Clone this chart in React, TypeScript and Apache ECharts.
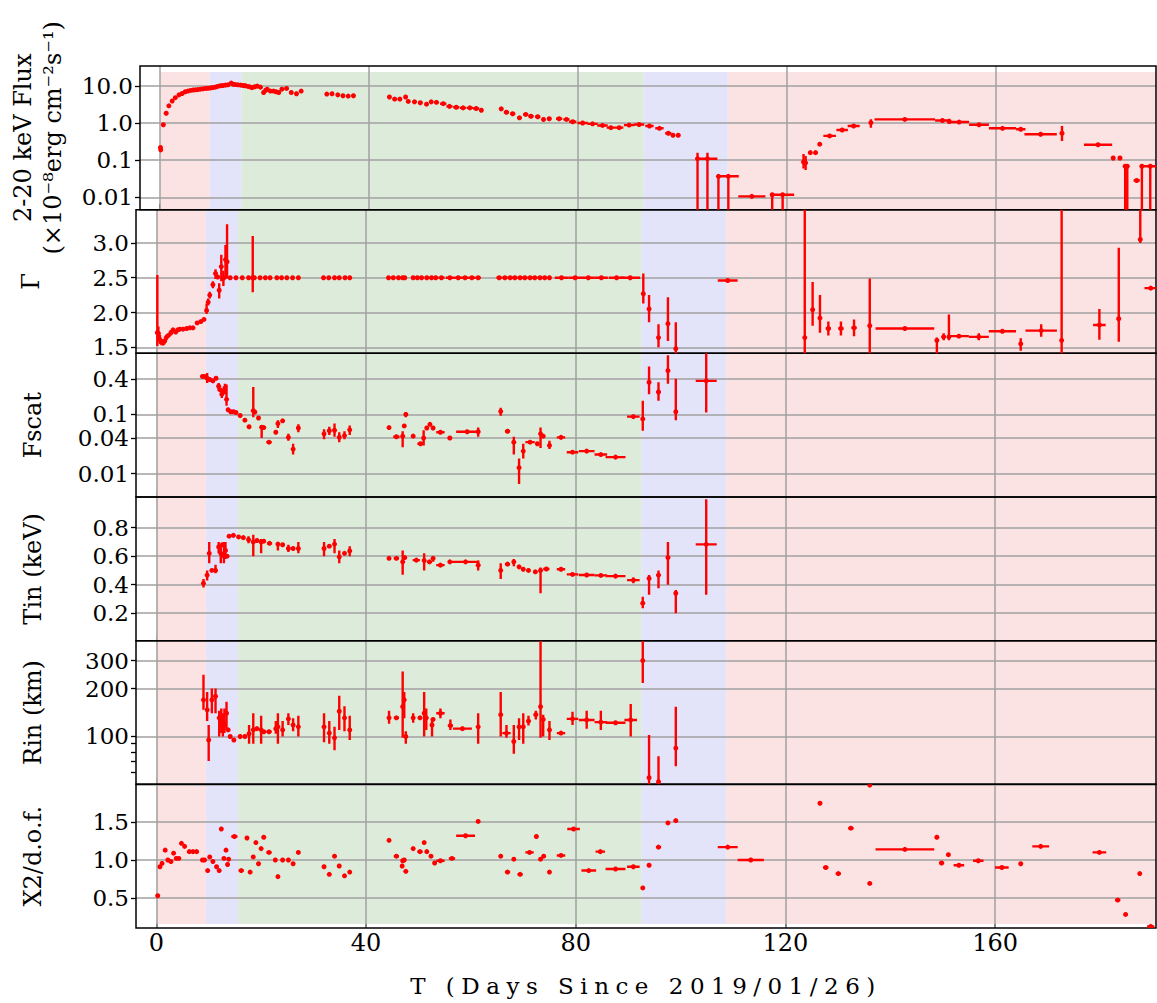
import React, { useEffect, useRef } from "react";
import * as echarts from "echarts";

// ---------------- data ----------------
// each row: [t (days), value, x half-width, error low, error high]
const fluxPoints: number[][] = [
  [0.05, 0.22], [0.1, 0.19], [0.6, 0.9], [1.15, 1.83], [1.66, 2.9], [2.3, 3.9], [2.9, 4.8], [3.6, 5.7], [4.2, 6.2], [4.8, 6.9], [5.3, 7.2], [5.8, 7.5], [6.3, 7.7], [6.75, 7.8], [7.2, 7.9], [7.7, 8.1], [8.2, 8.3], [8.7, 8.5], [9.1, 8.6], [9.6, 8.7], [10.1, 9.0], [10.6, 9.2], [11.0, 9.6], [11.5, 10.0], [12.0, 10.2], [12.5, 10.4], [13.0, 10.6], [13.6, 11.8], [14.0, 11.0], [14.4, 10.8], [14.9, 10.6], [15.4, 10.4], [15.9, 10.2], [16.3, 10.0], [16.8, 9.6], [17.2, 9.3], [17.6, 8.9], [18.1, 9.4], [18.6, 9.8], [19.2, 9.2], [19.8, 6.6], [20.2, 7.6], [20.5, 8.1], [21.1, 7.2], [21.7, 7.2], [22.2, 6.9], [22.7, 6.6], [23.3, 8.1], [24.2, 8.5], [25.1, 6.6], [26.1, 6.1], [27.0, 7.2],
  [31.9, 6.0], [32.9, 6.1], [34.0, 5.7], [35.0, 5.4], [36.0, 5.3], [37.0, 5.4],
  [43.9, 5.0, 0.3], [44.9, 4.4, 0.4], [45.9, 4.4, 0.4], [47.0, 5.0, 0, 4.5, 5.5], [47.5, 3.8], [48.7, 3.7, 0.4], [49.8, 3.5, 0.4], [51.0, 3.2, 0, 2.9, 3.5], [51.9, 3.7], [52.9, 3.6, 0.4], [54.2, 3.3, 0.6], [55.4, 2.8, 0.6], [56.7, 2.65, 0.6], [58.0, 2.55, 0.6], [59.3, 2.55, 0.6], [60.5, 2.45, 0.6], [61.5, 2.2, 0, 2.0, 2.4],
  [65.3, 2.4, 0.4, 2.1, 2.7], [66.3, 1.95, 0.5], [67.5, 1.77, 0.5], [68.8, 1.38, 0.4], [70.0, 1.7, 0.5], [71.0, 1.52, 0.5], [72.3, 1.47, 0.5], [73.4, 1.25, 0, 1.1, 1.4], [74.5, 1.3, 0.4], [76.4, 1.3, 0.6], [77.8, 1.25, 0.6], [79.0, 1.08, 0.7], [80.9, 1.0, 1.0], [82.8, 0.95, 1.0], [84.7, 0.86, 1.0], [86.3, 0.75, 0.8], [87.9, 0.75, 0.8], [89.8, 0.88, 1.0], [91.7, 0.91, 1.0], [93.7, 0.83, 0.8], [95.6, 0.72, 0.8], [97.3, 0.53, 0.6], [98.2, 0.47], [99.2, 0.47, 0.4],
  [102.9, 0.11, 0.2, 0.004, 0.16], [104.8, 0.11, 1.9, 0.004, 0.16], [106.9, 0.037, 0.2, 0.004, 0.038], [108.8, 0.037, 2.0, 0.004, 0.038], [113.3, 0.0107, 2.6], [117.2, 0.0118, 0.3, 0.004, 0.012], [119.2, 0.0118, 2.2, 0.004, 0.012],
  [123.2, 0.09, 0.2, 0.06, 0.146], [123.6, 0.085, 0.2, 0.055, 0.13], [124.5, 0.16, 0.3], [125.5, 0.16, 0.3], [126.3, 0.27, 0.3], [128.2, 0.45, 1.2], [130.6, 0.65, 1.1], [132.8, 0.83, 1.15], [136.1, 1.02, 0.2, 0.75, 1.26], [142.6, 1.25, 5.8], [149.8, 1.17, 1.4], [151.1, 1.1, 0.2, 0.95, 1.3], [153.0, 1.06, 1.9], [156.8, 0.9, 1.9], [161.3, 0.72, 2.6], [164.8, 0.68, 0.9], [168.6, 0.5, 3.1], [172.7, 0.53, 0, 0.33, 0.83],
  [179.6, 0.26, 2.7], [182.5, 0.115, 0.3, 0.1, 0.13], [183.8, 0.115, 0.4, 0.1, 0.13], [184.8, 0.069, 0.2, 0.004, 0.075], [185.2, 0.069, 0.2, 0.004, 0.075], [187.0, 0.0285, 0.6], [188.0, 0.069, 0.1, 0.004, 0.07], [189.6, 0.069, 1.5, 0.004, 0.07],
];

const gammaPoints: number[][] = [
  [0.2, 1.71, 0, 1.52, 2.54], [0.4, 1.7, 0, 1.6, 1.8], [0.7, 1.61, 0, 1.55, 1.68], [1.0, 1.57, 0, 1.53, 1.62], [1.3, 1.56], [1.6, 1.59], [1.9, 1.64, 0, 1.6, 1.68], [2.3, 1.67], [2.8, 1.71, 0, 1.67, 1.75], [3.2, 1.75], [3.7, 1.72], [4.1, 1.75], [4.5, 1.76], [5.1, 1.76], [5.8, 1.77], [6.4, 1.78], [7.0, 1.78], [7.8, 1.85], [8.5, 1.87], [9.1, 1.9],
  [9.6, 2.03, 0, 1.98, 2.13], [9.9, 2.15, 0, 2.1, 2.2], [10.2, 2.25, 0, 2.2, 2.3], [10.8, 2.4, 0, 2.35, 2.45], [11.3, 2.56, 0, 2.48, 2.62], [11.7, 2.51], [12.0, 2.32, 0, 2.2, 2.42], [12.4, 2.66, 0, 2.45, 2.83], [12.8, 2.49, 0, 2.38, 2.6], [13.2, 2.76, 0, 2.48, 2.97], [13.5, 2.73, 0, 2.49, 3.27],
  [14.1, 2.5], [15.2, 2.5], [16.4, 2.5], [17.6, 2.5], [18.4, 2.5, 0.3, 2.29, 3.1], [18.7, 2.5], [19.8, 2.5], [20.8, 2.5], [21.7, 2.5], [23.0, 2.5], [23.9, 2.5], [24.9, 2.5], [26.0, 2.5], [27.1, 2.5],
  [31.9, 2.5], [32.9, 2.5], [34.0, 2.5], [34.9, 2.5], [36.0, 2.5], [36.9, 2.5],
  [44.3, 2.5, 0.3], [45.2, 2.5, 0.4], [46.2, 2.5, 0.4], [47.0, 2.5, 0.3], [47.4, 2.5], [49.0, 2.5, 0.4], [49.8, 2.5, 0.4], [50.6, 2.5, 0.4], [51.6, 2.5, 0.4], [52.5, 2.5, 0.4], [53.3, 2.5, 0.4], [54.4, 2.5, 0.6], [56.0, 2.5, 0.8], [57.6, 2.5, 0.8], [58.9, 2.5, 0.6], [60.2, 2.5, 0.7], [61.4, 2.5, 0.5],
  [65.4, 2.5, 0.5], [66.5, 2.5, 0.5], [67.5, 2.5, 0.5], [68.4, 2.5, 0.5], [69.4, 2.5, 0.5], [70.3, 2.5, 0.5], [71.3, 2.5, 0.5], [72.2, 2.5, 0.5], [73.2, 2.5, 0.5], [74.1, 2.5, 0.4], [75.0, 2.5, 0.3],
  [77.3, 2.5, 1.3], [79.9, 2.5, 1.3], [82.4, 2.5, 1.25], [84.9, 2.5, 1.25], [87.8, 2.5, 1.5], [90.4, 2.5, 1.9],
  [92.9, 2.27, 0, 2.13, 2.56], [94.0, 2.05, 0, 1.86, 2.25], [95.8, 1.64, 0.3, 1.5, 1.83], [97.6, 1.84, 0, 1.59, 2.22], [99.1, 1.48, 0.3, 1.3, 1.86],
  [109.0, 2.46, 1.9],
  [123.7, 1.64, 0.3, 1.3, 3.6], [125.2, 2.04, 0.3, 1.81, 2.44], [126.6, 1.92, 0.3, 1.71, 2.25], [128.2, 1.77, 0.5, 1.67, 1.87], [130.6, 1.77, 0.5, 1.67, 1.87], [133.1, 1.78, 0.5, 1.66, 1.9], [136.1, 1.81, 0, 1.3, 2.49], [142.8, 1.77, 5.6], [148.9, 1.6, 0, 1.3, 1.64], [150.2, 1.65, 0.4, 1.6, 1.7], [151.2, 1.65, 0, 1.6, 1.97], [153.1, 1.66, 1.9], [156.9, 1.65, 1.9, 1.6, 1.7], [161.4, 1.73, 2.6], [164.9, 1.55, 0.3, 1.45, 1.63], [168.8, 1.74, 3.0, 1.65, 1.83], [172.7, 1.6, 0, 1.3, 3.6], [179.9, 1.82, 1.2, 1.61, 2.05], [183.6, 1.91, 0.4, 1.58, 2.93], [187.7, 3.05, 0, 3.0, 3.6], [189.7, 2.35, 1.2],
];

const fscatPoints: number[][] = [
  [8.8, 0.44, 0.3], [9.2, 0.44], [9.7, 0.41, 0, 0.34, 0.5], [10.2, 0.39], [10.8, 0.37, 0, 0.34, 0.4], [11.4, 0.41], [11.9, 0.3, 0, 0.25, 0.34], [12.2, 0.26], [12.5, 0.22, 0, 0.19, 0.27], [12.8, 0.25], [13.1, 0.28, 0, 0.22, 0.33], [13.4, 0.18, 0, 0.14, 0.32], [13.7, 0.12], [14.2, 0.111], [14.7, 0.111], [15.2, 0.108], [16.0, 0.096], [16.9, 0.08], [17.7, 0.062], [18.5, 0.116, 0, 0.09, 0.29], [18.8, 0.11], [19.5, 0.087], [20.1, 0.061, 0, 0.04, 0.066], [20.5, 0.06], [21.5, 0.034, 0.5], [22.8, 0.05], [23.2, 0.07, 0, 0.059, 0.08], [24.1, 0.078], [25.2, 0.041, 0, 0.036, 0.047], [26.1, 0.026, 0, 0.021, 0.032], [27.1, 0.059, 0, 0.05, 0.068],
  [32.0, 0.047, 0, 0.038, 0.056], [33.0, 0.053, 0, 0.045, 0.062], [34.0, 0.054, 0, 0.042, 0.07], [34.9, 0.041, 0, 0.034, 0.05], [35.9, 0.044, 0, 0.038, 0.052], [36.9, 0.055, 0, 0.045, 0.065],
  [44.4, 0.06], [45.8, 0.042, 0.6], [47.0, 0.043, 0, 0.028, 0.052], [47.3, 0.064], [47.6, 0.1, 0, 0.09, 0.11], [49.0, 0.043], [50.4, 0.032, 0.6], [51.0, 0.04, 0, 0.03, 0.054], [51.6, 0.059], [52.2, 0.068], [52.8, 0.059], [54.2, 0.05, 0.8], [56.0, 0.04, 0.4], [59.3, 0.051, 2.1], [61.4, 0.051, 0, 0.042, 0.06],
  [65.7, 0.113, 0, 0.095, 0.13], [67.0, 0.052, 0.5], [68.2, 0.034, 0, 0.021, 0.042], [69.2, 0.0126, 0, 0.0067, 0.018], [70.0, 0.024, 0, 0.018, 0.032], [71.3, 0.034, 0.9], [72.7, 0.032], [73.3, 0.047, 0, 0.027, 0.06], [73.8, 0.043], [75.0, 0.03, 0, 0.026, 0.036], [77.2, 0.041, 0.8], [79.4, 0.023, 1.1], [82.1, 0.024, 1.5], [84.8, 0.021, 1.2], [87.6, 0.019, 1.9], [91.0, 0.092, 1.2],
  [92.8, 0.084, 0, 0.053, 0.17], [94.0, 0.35, 0, 0.22, 0.65], [95.8, 0.24, 0.4, 0.17, 0.35], [97.6, 0.55, 0, 0.33, 1.0], [99.1, 0.111, 0.3, 0.08, 0.4], [104.9, 0.37, 2.0, 0.108, 1.3],
];

const tinPoints: number[][] = [
  [9.0, 0.41, 0, 0.38, 0.44], [9.7, 0.467, 0, 0.43, 0.5], [10.1, 0.62, 0, 0.55, 0.7], [10.6, 0.5], [11.3, 0.5, 0, 0.48, 0.54], [11.9, 0.665, 0, 0.62, 0.7], [12.3, 0.62, 0, 0.55, 0.68], [12.6, 0.68], [12.9, 0.6, 0, 0.55, 0.7], [13.2, 0.64, 0, 0.58, 0.7], [13.5, 0.6], [13.9, 0.74], [14.7, 0.746], [15.7, 0.735], [16.6, 0.73], [17.6, 0.716, 0, 0.69, 0.74], [18.5, 0.7, 0, 0.6, 0.75], [19.2, 0.71], [20.0, 0.7, 0, 0.62, 0.72], [20.5, 0.705], [21.6, 0.69, 0.5], [23.2, 0.685, 0, 0.64, 0.7], [24.1, 0.68], [25.2, 0.654, 0, 0.63, 0.68], [26.1, 0.654], [27.1, 0.654, 0, 0.62, 0.7],
  [32.0, 0.654, 0, 0.6, 0.7], [33.0, 0.67], [34.0, 0.685, 0, 0.62, 0.72], [34.9, 0.595, 0, 0.55, 0.64], [35.9, 0.62], [36.9, 0.637, 0, 0.6, 0.67],
  [44.4, 0.585, 0.3], [45.8, 0.585, 0.5], [47.0, 0.56, 0, 0.47, 0.64], [47.4, 0.59], [49.6, 0.572, 0.7], [51.1, 0.57, 0, 0.5, 0.62], [52.1, 0.56, 0.5], [52.8, 0.585, 0, 0.56, 0.6], [54.2, 0.537, 0.8], [56.0, 0.56], [59.0, 0.56, 2.6], [61.4, 0.537, 0, 0.5, 0.57],
  [65.7, 0.5, 0, 0.44, 0.55], [67.0, 0.544, 0.5], [68.2, 0.56, 0, 0.53, 0.58], [69.2, 0.525], [70.0, 0.508], [71.0, 0.5], [72.3, 0.49, 0.4], [73.3, 0.5, 0, 0.34, 0.52], [74.4, 0.51, 0.6], [77.2, 0.508, 0.8], [79.4, 0.472, 1.1], [82.1, 0.468, 1.5], [84.8, 0.465, 1.2], [87.6, 0.46, 1.9], [91.0, 0.432, 1.2, 0.41, 0.45],
  [92.8, 0.27, 0, 0.235, 0.316], [94.0, 0.444, 0, 0.33, 0.467], [95.8, 0.467, 0.4, 0.374, 0.5], [97.6, 0.59, 0, 0.4, 0.7], [99.1, 0.34, 0.3, 0.2, 0.363], [104.9, 0.683, 2.0, 0.33, 1.0],
];

const rinPoints: number[][] = [
  [9.0, 170, 0, 147, 244], [9.7, 147, 0, 125, 190], [10.0, 95, 0, 70, 118], [10.6, 170, 0, 140, 200], [11.3, 179, 0, 140, 200], [12.0, 131, 0, 100, 145], [12.4, 125, 0, 105, 150], [12.7, 115, 0, 100, 140], [13.0, 120, 0, 105, 150], [13.4, 140, 0, 110, 165], [13.7, 110], [14.1, 100], [14.8, 95], [16.0, 100], [16.9, 100], [17.7, 104, 0, 90, 118], [18.5, 110, 0, 90, 140], [19.2, 112], [20.0, 110, 0, 90, 135], [20.5, 107], [21.5, 107, 0.5], [22.8, 112, 0, 104, 125], [23.2, 115, 0, 90, 140], [24.1, 110, 0, 100, 125], [25.2, 129, 0, 118, 140], [26.1, 118, 0, 108, 130], [27.1, 115, 0, 100, 135],
  [32.0, 115, 0, 92, 140], [33.0, 105, 0, 90, 125], [34.0, 98, 0, 82, 115], [34.9, 144, 0, 110, 180], [35.9, 131, 0, 108, 155], [36.9, 110, 0, 95, 135],
  [44.4, 131, 0.3, 120, 145], [45.8, 131, 0.5], [47.0, 154, 0, 98, 256], [47.3, 170, 0, 130, 190], [47.6, 100, 0, 90, 108], [49.0, 131, 0, 122, 140], [50.3, 131, 0.4], [51.1, 140, 0, 100, 190], [51.5, 131, 0, 110, 150], [52.6, 118, 0, 100, 130], [52.8, 128], [54.2, 140, 0.8, 130, 150], [56.1, 117, 0.5, 110, 128], [58.4, 112, 1.8], [61.4, 115, 0, 90, 140],
  [65.7, 137, 0, 100, 190], [66.8, 105, 0.8, 98, 118], [68.2, 93, 0, 78, 118], [69.2, 115, 0, 95, 130], [70.0, 115, 0, 90, 140], [71.0, 125, 0.4, 117, 135], [72.4, 137, 0.4, 128, 145], [73.3, 154, 0, 98, 400], [73.8, 128, 0, 100, 137], [75.0, 110, 0, 95, 125], [77.2, 105, 0.8], [79.4, 129, 1.1, 118, 143], [82.1, 127, 1.5, 112, 145], [84.8, 123, 1.2, 110, 145], [87.6, 122, 1.9], [90.5, 127, 1.2, 100, 160],
  [92.8, 300, 0, 217, 400], [94.0, 55, 0.35, 45, 102], [95.8, 52, 0, 45, 75], [99.1, 84.5, 0.3, 65, 154],
];

const chiPoints: number[][] = [
  [0.27, 0.527], [0.7, 0.91], [1.1, 0.956], [1.7, 1.13], [2.2, 1.0], [2.8, 0.98], [3.3, 1.09], [3.8, 1.02], [4.3, 1.02], [4.8, 1.22], [5.4, 1.18], [6.3, 1.11], [7.0, 1.11], [7.7, 1.11], [8.8, 1.0], [9.2, 1.0], [9.8, 0.86], [10.2, 1.04], [10.8, 0.98], [11.5, 0.91], [12.0, 0.86], [12.4, 1.41], [12.9, 1.02], [13.3, 1.13], [13.6, 0.94], [13.8, 1.01], [14.9, 1.31, 0.6], [16.2, 0.86, 0.5], [17.3, 1.29], [17.9, 0.84], [18.5, 1.04], [19.0, 1.23], [19.5, 0.95], [20.0, 1.15], [20.5, 1.3], [21.5, 1.1, 0.5], [22.7, 1.0], [23.2, 0.78], [24.1, 1.0], [25.2, 1.0], [26.1, 0.95], [27.1, 1.1],
  [32.0, 0.91], [33.0, 0.81], [34.0, 1.05], [34.9, 0.92], [35.9, 0.79], [36.9, 0.84],
  [44.4, 1.26], [45.8, 1.05, 0.5], [46.9, 0.92], [47.0, 0.99], [47.3, 1.0], [47.6, 0.85], [49.0, 1.15], [50.3, 1.11, 0.5], [51.1, 1.23], [51.6, 1.11], [52.4, 1.05], [53.1, 0.96], [54.2, 0.99, 0.8], [56.4, 1.02, 0.6], [59.0, 1.32, 1.8], [61.4, 1.51],
  [65.7, 1.05], [67.0, 0.84, 0.5], [68.2, 1.01], [69.4, 0.81, 0.5], [71.2, 1.1, 0.8], [72.5, 1.31, 0.3], [73.3, 1.01], [73.9, 1.05], [75.0, 0.84], [77.2, 1.06, 0.8], [79.6, 1.41, 1.2], [82.5, 0.86, 1.4], [84.7, 1.11, 0.9], [87.6, 0.88, 1.9], [91.0, 0.91, 1.2],
  [92.8, 0.63], [94.0, 0.93, 0.4], [95.8, 1.17, 0.5], [97.6, 1.49, 0.3], [99.1, 1.52, 0.4], [109.0, 1.17, 1.9], [113.4, 1.0, 2.5],
  [126.6, 1.75, 0.3], [127.7, 0.9, 0.5], [130.1, 0.82, 0.5], [132.5, 1.42, 0.5], [136.1, 1.99], [136.1, 0.69], [142.8, 1.14, 5.6], [148.9, 1.3], [149.8, 0.96, 0.5], [151.1, 1.07], [153.1, 0.93, 1.0], [156.8, 0.99, 1.0], [161.3, 0.9, 1.3], [164.9, 0.95, 0.35], [168.7, 1.18, 1.6], [179.9, 1.1, 1.3], [183.4, 0.47, 0.5], [184.9, 0.28], [187.6, 0.82], [189.7, 0.12, 0.7],
];

// state boundaries (days)
const bandEdges = [0, 9.5, 15.6, 92.6, 108.7, 190.7];

// tick values
const xTickValues = [0, 40, 80, 120, 160];
const fluxTickValues = [0.01, 0.1, 1, 10];
const gammaTickValues = [1.5, 2.0, 2.5, 3.0];
const fscatTickValues = [0.01, 0.04, 0.1, 0.4];
const tinTickValues = [0.2, 0.4, 0.6, 0.8];
const rinTickValues = [100, 200, 300];
const rinMinorTickValues = [60, 70, 80, 90];
const chiTickValues = [0.5, 1.0, 1.5];
const chiGridValues = [0.5, 1.0, 1.5, 2.0];

const X_TITLE = "T (Days Since 2019/01/26)";

// ---------------- styles ----------------
const RED = "#ff0000";
const FONT = "DejaVu Serif";
const GRID_COLOR = "#a0a0a0";
const bandColors = ["#fbe3e3", "#e3e4fa", "#ddebda", "#e3e4fa", "#fbe3e3"];
const X_MIN = -3.87;
const X_MAX = 190.7;
const GRID_LEFT = 136;
const GRID_W = 1020;
const PANEL_TOP = 66;
const PANEL_H = 143.67;

const num = (v: number) => Number(Number(v).toPrecision(6));
const fmtFlux = (v: number) => { const r = num(v); return r >= 1 ? r.toFixed(1) : String(r); };
const fmtPlain = (v: number) => String(num(v));
const fmt1 = (v: number) => num(v).toFixed(1);
const fmtInt = (v: number) => String(Math.round(v));

const panels = [
  { pts: fluxPoints, log: true, min: 0.0047, max: 34, labels: fluxTickValues, ticks: fluxTickValues, grid: fluxTickValues, fmt: fmtFlux, name: "2-20 keV Flux\n(×10⁻⁸erg cm⁻²s⁻¹)", gap: 72, bandLo: 0.0047, bandHi: 23.6 },
  { pts: gammaPoints, log: false, min: 1.413, max: 3.478, labels: gammaTickValues, ticks: gammaTickValues, grid: gammaTickValues, fmt: fmt1, name: "Γ", gap: 90, bandLo: 1.413, bandHi: 3.478 },
  { pts: fscatPoints, log: true, min: 0.00402, max: 1.08, labels: fscatTickValues, ticks: fscatTickValues, grid: fscatTickValues, fmt: fmtPlain, name: "Fscat", gap: 88, bandLo: 0.00402, bandHi: 1.08 },
  { pts: tinPoints, log: false, min: 0.007, max: 1.015, labels: tinTickValues, ticks: tinTickValues, grid: tinTickValues, fmt: fmt1, name: "Tin (keV)", gap: 88, bandLo: 0.007, bandHi: 1.015 },
  { pts: rinPoints, log: true, min: 50, max: 400, labels: rinTickValues, ticks: [...rinMinorTickValues, ...rinTickValues], grid: rinTickValues, fmt: fmtInt, name: "Rin (km)", gap: 88, bandLo: 50, bandHi: 400 },
  { pts: chiPoints, log: false, min: 0.1, max: 2.0, labels: chiTickValues, ticks: chiTickValues, grid: chiGridValues, fmt: fmt1, name: "X2/d.o.f.", gap: 88, bandLo: 0.153, bandHi: 2.0 },
];

function renderItem(params: any, api: any) {
  const t = api.value(0);
  const v = api.value(1);
  const dt = api.value(2);
  const lo = api.value(3);
  const hi = api.value(4);
  const c = api.coord([t, v]);
  const st = { stroke: RED, lineWidth: 2.4 };
  const children: any[] = [];
  if (dt > 0) {
    const a = api.coord([t - dt, v]);
    const b = api.coord([t + dt, v]);
    children.push({ type: "line", shape: { x1: a[0], y1: a[1], x2: b[0], y2: b[1] }, style: st });
  }
  if (lo > 0 && hi > 0) {
    const a = api.coord([t, lo]);
    const b = api.coord([t, hi]);
    children.push({ type: "line", shape: { x1: a[0], y1: a[1], x2: b[0], y2: b[1] }, style: st });
  }
  children.push({ type: "circle", shape: { cx: c[0], cy: c[1], r: 2.5 }, style: { fill: RED } });
  return { type: "group", children };
}

function buildOption() {
  const grid: any[] = [];
  const xAxis: any[] = [];
  const yAxis: any[] = [];
  const series: any[] = [];
  panels.forEach((p, i) => {
    const last = i === panels.length - 1;
    grid.push({
      left: GRID_LEFT, width: GRID_W, top: PANEL_TOP + i * PANEL_H, height: PANEL_H,
      show: true, borderColor: "#000", borderWidth: 1.5, backgroundColor: "transparent", z: 5,
    });
    xAxis.push({
      type: "value", gridIndex: i, min: X_MIN, max: X_MAX,
      axisLine: { show: false, onZero: false }, splitLine: { show: false },
      axisTick: { show: true, inside: true, length: 6, customValues: xTickValues, lineStyle: { color: "#000", width: 1.5 } },
      axisLabel: { show: last, customValues: xTickValues, fontFamily: FONT, fontSize: 24, color: "#000", margin: 3 },
      name: last ? X_TITLE : "", nameLocation: "middle", nameGap: 46,
      nameTextStyle: { fontFamily: FONT, fontSize: 23, color: "#000" },
    });
    yAxis.push({
      type: p.log ? "log" : "value", logBase: 10, gridIndex: i, min: p.min, max: p.max,
      axisLine: { show: false, onZero: false }, splitLine: { show: false },
      axisTick: { show: true, inside: false, length: 5, customValues: p.ticks, lineStyle: { color: "#000", width: 1.3 } },
      axisLabel: { customValues: p.labels, formatter: p.fmt, fontFamily: FONT, fontSize: 23, lineHeight: 22, color: "#000", margin: 7 },
      name: p.name, nameLocation: "middle", nameRotate: 90, nameGap: p.gap,
      nameTextStyle: { fontFamily: FONT, fontSize: 24, color: "#000", lineHeight: 30 },
    });
    const areas = bandColors.map((col, k) => [
      { xAxis: bandEdges[k], yAxis: p.bandLo, itemStyle: { color: col } },
      { xAxis: bandEdges[k + 1], yAxis: p.bandHi },
    ]);
    const lines = [
      ...xTickValues.map((x) => ({ xAxis: x })),
      ...p.grid.map((y) => ({ yAxis: y })),
    ];
    series.push({
      type: "line", xAxisIndex: i, yAxisIndex: i, data: [], silent: true, z: 1,
      markArea: { silent: true, z: 1, itemStyle: { borderWidth: 0 }, label: { show: false }, data: areas },
      markLine: {
        silent: true, z: 2, symbol: ["none", "none"], label: { show: false },
        lineStyle: { color: GRID_COLOR, width: 1.5, type: "solid" }, emphasis: { disabled: true }, data: lines,
      },
    });
    series.push({
      type: "custom", xAxisIndex: i, yAxisIndex: i, z: 10, clip: true, silent: true,
      dimensions: ["t", "v", "dt", "lo", "hi"], encode: { x: 0, y: 1 },
      renderItem,
      data: p.pts.map((r) => [r[0], r[1], r[2] ?? 0, r[3] ?? 0, r[4] ?? 0]),
    });
  });
  return { animation: false, backgroundColor: "#ffffff", grid, xAxis, yAxis, series };
}

export default function App() {
  const ref = useRef<HTMLDivElement>(null);
  useEffect(() => {
    const el = ref.current!;
    const chart = echarts.init(el, null, { renderer: "svg", width: 1157, height: 1003 });
    chart.setOption(buildOption());
    el.querySelectorAll("text").forEach((t) => {
      if (t.textContent === X_TITLE) (t as SVGTextElement).style.letterSpacing = "6.5px";
    });
    return () => chart.dispose();
  }, []);
  return <div ref={ref} style={{ position: "absolute", left: 0, top: 0, width: 1157, height: 1003, background: "#fff" }} />;
}
